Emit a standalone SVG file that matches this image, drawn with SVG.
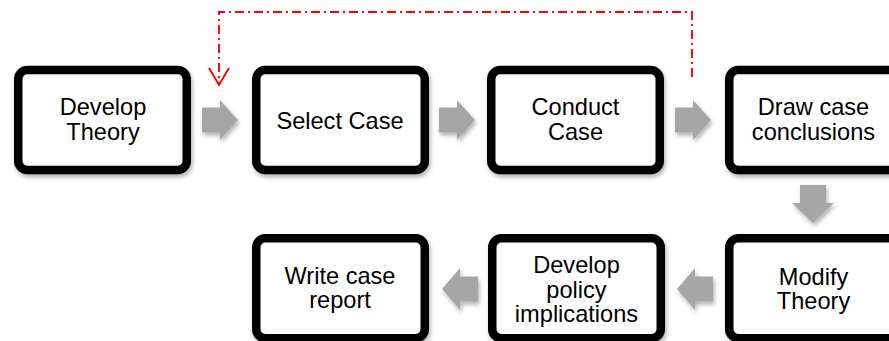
<svg xmlns="http://www.w3.org/2000/svg" width="889" height="341" viewBox="0 0 889 341">
  <style>
    .box { fill: #ffffff; stroke: #000000; stroke-width: 8.5; }
    .label { font-family: "Liberation Sans", Arial, sans-serif; font-size: 23.6px; fill: #000000; text-anchor: middle; }
    .flow { fill: #a6a6a6; }
    .loop { fill: none; stroke: #ff0000; stroke-width: 1.9; stroke-dasharray: 9 4 2 4; }
    .loophead { fill: none; stroke: #ff0000; stroke-width: 1.9; }
  </style>
  <defs>
    <filter id="shadow" x="-10%" y="-10%" width="125%" height="130%">
      <feDropShadow dx="1.5" dy="3" stdDeviation="2" flood-color="#000000" flood-opacity="0.3"/>
    </filter>
  </defs>

  <rect width="889" height="341" fill="#ffffff"/>

  <!-- connectors -->
  <g id="connectors">
    <g filter="url(#shadow)">
      <path class="flow" d="M202,107.5 H220 V100 L238,120 L220,140 V132.5 H202 Z"/>
      <path class="flow" d="M439,107.5 H457 V100 L475,120 L457,140 V132.5 H439 Z"/>
      <path class="flow" d="M675,107.5 H693 V100 L711,120 L693,140 V132.5 H675 Z"/>
      <path class="flow" d="M800,185 H826 V203 H834 L813,223 L792,203 H800 Z"/>
      <path class="flow" d="M677,289 L695,268 V276.5 H713 V301.5 H695 V310 Z"/>
      <path class="flow" d="M442,289 L460,268 V276.5 H478 V301.5 H460 V310 Z"/>
    </g>
    <!-- feedback loop back to case selection -->
    <path class="loop" d="M692,77 V12 H219 V84"/>
    <path class="loophead" d="M209,68 L219,85 L229,68"/>
  </g>

  <!-- top row -->
  <g id="develop-theory">
    <rect class="box" x="18.25" y="70" width="168.5" height="100" rx="9" filter="url(#shadow)"/>
    <text class="label" x="103" y="115">Develop</text>
    <text class="label" x="103" y="139.5">Theory</text>
  </g>
  <g id="select-case">
    <rect class="box" x="256.25" y="70" width="168.5" height="100" rx="9" filter="url(#shadow)"/>
    <text class="label" x="340" y="128.5">Select Case</text>
  </g>
  <g id="conduct-case">
    <rect class="box" x="491.25" y="70" width="168.5" height="100" rx="9" filter="url(#shadow)"/>
    <text class="label" x="575.5" y="115">Conduct</text>
    <text class="label" x="575.5" y="139.5">Case</text>
  </g>
  <g id="draw-conclusions">
    <rect class="box" x="729.25" y="70" width="168.5" height="100" rx="9" filter="url(#shadow)"/>
    <text class="label" x="813.5" y="115">Draw case</text>
    <text class="label" x="813.5" y="139.5">conclusions</text>
  </g>

  <!-- bottom row -->
  <g id="write-report">
    <rect class="box" x="256.25" y="238.25" width="168.5" height="100" rx="9" filter="url(#shadow)"/>
    <text class="label" x="340" y="284">Write case</text>
    <text class="label" x="340" y="307.5">report</text>
  </g>
  <g id="policy-implications">
    <rect class="box" x="492.25" y="238.25" width="168.5" height="100" rx="9" filter="url(#shadow)"/>
    <text class="label" x="576.5" y="273">Develop</text>
    <text class="label" x="576.5" y="297.5">policy</text>
    <text class="label" x="576.5" y="322">implications</text>
  </g>
  <g id="modify-theory">
    <rect class="box" x="729.25" y="238.25" width="168.5" height="100" rx="9" filter="url(#shadow)"/>
    <text class="label" x="813.5" y="285">Modify</text>
    <text class="label" x="813.5" y="308.5">Theory</text>
  </g>
</svg>
